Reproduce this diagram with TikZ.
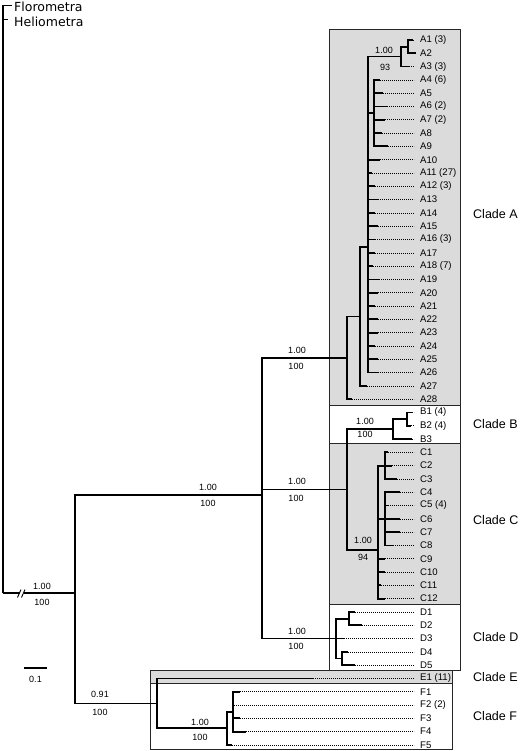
\documentclass[tikz,border=0pt]{standalone}
\usepackage{fontspec}
\setmainfont{Liberation Sans}
\newfontfamily\outfont{DejaVu Sans}

\begin{document}
\begin{tikzpicture}[x=1pt, y=-1pt,
  branch/.style={line width=1.8pt},
  dots/.style={line width=0.6pt, dash pattern=on 0.7pt off 1.3pt, shorten >=3pt},
  tip/.style={anchor=west, inner xsep=3pt, inner ysep=0pt, font=\fontsize{9.6}{10}\selectfont},
  outg/.style={anchor=west, inner sep=1pt, font=\outfont\fontsize{12.5}{13}\selectfont},
  supp/.style={inner sep=0pt, font=\fontsize{9}{10}\selectfont},
  clade/.style={anchor=west, inner sep=0pt, font=\fontsize{12.5}{14}\selectfont},
  cladebox/.style={draw=black!85, line width=0.9pt}]
\useasboundingbox (0,0) rectangle (519,751);

% Clade boxes
\filldraw[cladebox, fill=black!14] (329.5,29.5) rectangle (460.5,405.5);
\filldraw[cladebox, fill=white] (329.5,405.5) rectangle (460.5,443);
\filldraw[cladebox, fill=black!14] (329.5,443) rectangle (460.5,604.5);
\filldraw[cladebox, fill=white] (329.5,604.5) rectangle (460.5,670.5);
\filldraw[cladebox, fill=black!14] (150.5,670.5) rectangle (452,683.5);
\filldraw[cladebox, fill=white] (150.5,683.5) rectangle (452,749.5);

% Clade names
\foreach \nm/\y in {A/214, B/424, C/520, D/637, E/677, F/716}
  \node[clade] (clade\nm) at (473,\y) {Clade \nm};

% Outgroup
\node[outg] (Flo) at (13,7) {Florometra};
\node[outg] (Hel) at (13,22) {Heliometra};
\coordinate (tFlo) at (12,5.5);
\coordinate (tHel) at (8,19.5);

% Leaves: name / label / row / end of branch
\foreach \nm/\lab/\row/\tx in {
  A1/{A1 (3)}/0/413, A2/A2/1/416, A3/{A3 (3)}/2/409, A4/{A4 (6)}/3/380,
  A5/A5/4/383, A6/{A6 (2)}/5/387, A7/{A7 (2)}/6/385, A8/A8/7/382, A9/A9/8/388,
  A10/A10/9/380, A11/{A11 (27)}/10/372, A12/{A12 (3)}/11/375, A13/A13/12/378,
  A14/A14/13/375, A15/A15/14/378, A16/{A16 (3)}/15/375, A17/A17/16/375,
  A18/{A18 (7)}/17/373, A19/A19/18/379, A20/A20/19/378, A21/A21/20/375,
  A22/A22/21/378, A23/A23/22/378, A24/A24/23/375, A25/A25/24/378,
  A26/A26/25/378, A27/A27/26/367, A28/A28/27/352,
  B1/{B1 (4)}/28/412, B2/{B2 (4)}/29/411, B3/B3/30/412,
  C1/C1/31/388, C2/C2/32/392, C3/C3/33/397, C4/C4/34/400, C5/{C5 (4)}/35/388,
  C6/C6/36/400, C7/C7/37/400, C8/C8/38/393, C9/C9/39/385, C10/C10/40/385,
  C11/C11/41/381, C12/C12/42/385,
  D1/D1/43/355, D2/D2/44/362, D3/D3/45/344, D4/D4/46/348, D5/D5/47/355,
  E1/{E1 (11)}/48/313,
  F1/F1/49/240, F2/{F2 (2)}/50/234, F3/F3/51/240, F4/F4/52/246, F5/F5/53/232} {
  \node[tip] (\nm) at (417,{40+13.3*\row}) {\lab};
  \coordinate (t\nm) at (\tx,{40+13.3*\row});
  \draw[dots] (t\nm) -- (\nm.west);
}

% Internal nodes
\coordinate (root) at (3,593);
\coordinate (nIn) at (75,593);
\coordinate (nTop) at (262,495.2);
\coordinate (nA) at (347,357.7);
\coordinate (nA27) at (360,316.4);
\coordinate (nApoly) at (368,247);
\coordinate (nA123) at (401,56.6);
\coordinate (nA12) at (408,46.7);
\coordinate (nA49) at (374,113.2);
\coordinate (nBC) at (347,489.4);
\coordinate (nB) at (393,429);
\coordinate (nB12) at (407,419);
\coordinate (nC) at (378,549.8);
\coordinate (nC13) at (385,465.6);
\coordinate (nC48) at (385,518.8);
\coordinate (nD) at (336,638.5);
\coordinate (nD12) at (349,618.6);
\coordinate (nD45) at (342,658.5);
\coordinate (nEF) at (157,703.4);
\coordinate (nF) at (227,728.3);
\coordinate (nF14) at (233,711.7);

% Branches
\foreach \p/\c in {nA12/tA1, nA12/tA2, nA123/nA12, nA123/tA3,
  nA49/tA4, nA49/tA5, nA49/tA6, nA49/tA7, nA49/tA8, nA49/tA9,
  nApoly/nA123, nApoly/nA49, nApoly/tA10, nApoly/tA11, nApoly/tA12,
  nApoly/tA13, nApoly/tA14, nApoly/tA15, nApoly/tA16, nApoly/tA17,
  nApoly/tA18, nApoly/tA19, nApoly/tA20, nApoly/tA21, nApoly/tA22,
  nApoly/tA23, nApoly/tA24, nApoly/tA25, nApoly/tA26,
  nA27/nApoly, nA27/tA27, nA/nA27, nA/tA28,
  nB12/tB1, nB12/tB2, nB/nB12, nB/tB3,
  nC13/tC1, nC13/tC2, nC13/tC3,
  nC48/tC4, nC48/tC5, nC48/tC6, nC48/tC7, nC48/tC8,
  nC/nC13, nC/nC48, nC/tC9, nC/tC10, nC/tC11, nC/tC12,
  nBC/nB, nBC/nC,
  nD12/tD1, nD12/tD2, nD45/tD4, nD45/tD5, nD/nD12, nD/tD3, nD/nD45,
  nTop/nA, nTop/nBC, nTop/nD,
  nF14/tF1, nF14/tF2, nF14/tF3, nF14/tF4, nF/nF14, nF/tF5,
  nEF/tE1, nEF/nF, nIn/nTop, nIn/nEF,
  root/tFlo, root/tHel}
  \draw[branch] (\p) |- (\c);
\draw[branch] (root) -- (nIn);

% Break on the root branch
\fill[white] (19.5,589) rectangle (23.5,598);
\draw[line width=0.9pt] (17.5,597.5) -- (21,589.5);
\draw[line width=0.9pt] (21.5,597.5) -- (25,589.5);

% Support values
\foreach \nm/\x/\y/\lab in {sRootP/42/586/1.00, sRootB/42/602/100,
  sTopP/208/487/1.00, sTopB/208/503/100,
  sAP/297/350/1.00, sAB/296/366/100,
  sBCP/297/481/1.00, sBCB/296/498/100,
  sDP/297/631/1.00, sDB/296/646/100,
  sA3P/384/50/1.00, sA3B/385/67/93,
  sBP/365/421/1.00, sBB/365/434/100,
  sCP/363/540/1.00, sCB/363/557/94,
  sEFP/100/694/0.91, sEFB/100/712/100,
  sFP/200/722/1.00, sFB/200/737/100}
  \node[supp] (\nm) at (\x,\y) {\lab};

% Scale bar
\coordinate (sb1) at (24,668);
\coordinate (sb2) at (47,668);
\draw[line width=1.2pt] (sb1) -- (sb2);
\node[supp] (sbar) at (35.5,679) {0.1};
\end{tikzpicture}
\end{document}
